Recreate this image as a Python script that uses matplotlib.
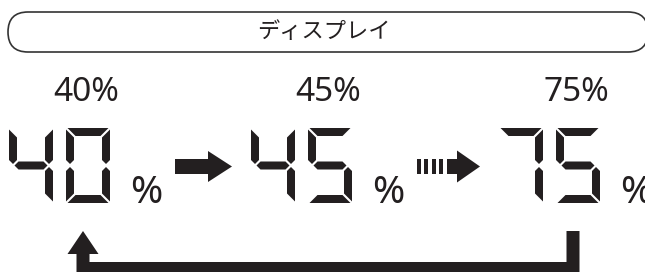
import matplotlib
matplotlib.use("Agg")
import matplotlib.pyplot as plt
import matplotlib.patches as mpatches

plt.rcParams['font.family'] = ['Noto Sans CJK JP', 'DejaVu Sans']

# dados
titulo = "ディスプレイ"
valores = [40, 45, 75]
rotulos = ["40%", "45%", "75%"]
setas = ["solida", "tracejada"]

COR = "#231f20"

# geometria do display de 7 segmentos
W, H, T, G = 44, 75, 8, 1.5
M = H / 2
SEGS = {
    'a': [(G, 0), (W - G, 0), (W - T - G, T), (T + G, T)],
    'd': [(G, H), (W - G, H), (W - T - G, H - T), (T + G, H - T)],
    'f': [(0, G), (T, T + G), (T, M - T / 2 - G), (T / 2, M - G), (0, M - T / 2 - G)],
    'b': [(W, G), (W - T, T + G), (W - T, M - T / 2 - G), (W - T / 2, M - G), (W, M - T / 2 - G)],
    'e': [(0, H - G), (T, H - T - G), (T, M + T / 2 + G), (T / 2, M + G), (0, M + T / 2 + G)],
    'c': [(W, H - G), (W - T, H - T - G), (W - T, M + T / 2 + G), (W - T / 2, M + G), (W, M + T / 2 + G)],
    'g': [(T / 2 + G, M), (T + G, M - T / 2), (W - T - G, M - T / 2), (W - T / 2 - G, M),
          (W - T - G, M + T / 2), (T + G, M + T / 2)],
}
DIGITOS = {
    '0': 'abcdef', '1': 'bc', '2': 'abged', '3': 'abgcd', '4': 'fgbc',
    '5': 'afgcd', '6': 'afgedc', '7': 'abc', '8': 'abcdefg', '9': 'abcdfg',
}


def desenha_digito(ax, ch, x0, y0):
    for s in DIGITOS[ch]:
        pts = [(x0 + px, y0 + py) for px, py in SEGS[s]]
        ax.add_patch(mpatches.Polygon(pts, closed=True, color=COR, lw=0))


fig = plt.figure(figsize=(6.45, 2.72), dpi=100)
ax = fig.add_axes([0, 0, 1, 1])
ax.set_xlim(0, 645)
ax.set_ylim(272, 0)
ax.axis('off')

# caixa do título
caixa = mpatches.FancyBboxPatch((8, 12), 640, 40, boxstyle="round,pad=0,rounding_size=20",
                                fc='white', ec='#333333', lw=1.2)
ax.add_patch(caixa)
ax.text(324, 32, titulo, fontsize=16, color=COR, ha='center', va='center')

TOPO = 128
grupos = [9, 251, 499]

for gx, v, rot in zip(grupos, valores, rotulos):
    ax.text(gx + 77, 101, rot, fontsize=24, color=COR, ha='center', va='baseline',
            family=['Noto Sans', 'DejaVu Sans'])
    for k, ch in enumerate(str(v)):
        desenha_digito(ax, ch, gx + 57 * k, TOPO)
    ax.text(gx + 121, 203, "%", fontsize=28, color=COR, ha='left', va='baseline',
            family=['Noto Sans', 'DejaVu Sans'], fontweight='light')

# setas entre os grupos
yc = TOPO + M + 1
for i, tipo in enumerate(setas):
    x0 = grupos[i] + 166
    x1 = grupos[i + 1] - 19
    if tipo == "solida":
        ax.add_patch(mpatches.FancyArrow(x0, yc, x1 - x0, 0, width=15, head_width=31,
                                         head_length=24, length_includes_head=True,
                                         color=COR, lw=0))
    else:
        ax.add_patch(mpatches.FancyArrow(x1 - 30, yc, 30, 0, width=15, head_width=32,
                                         head_length=23, length_includes_head=True,
                                         color=COR, lw=0))
        for j in range(5):
            ax.add_patch(mpatches.Rectangle((x0 + j * 7.4, yc - 7.5), 4, 15, color=COR, lw=0))

# seta de retorno (do último para o primeiro)
xa = grupos[0] + 74
xb = grupos[-1] + 74
sh = 6.5
pts = [(xa - sh, 254), (xa - 15.5, 254), (xa, 231), (xa + 15.5, 254), (xa + sh, 254),
       (xa + sh, 262), (xb - sh, 262), (xb - sh, 231), (xb + sh, 231), (xb + sh, 280),
       (xa - sh, 280)]
ax.add_patch(mpatches.Polygon(pts, closed=True, color=COR, lw=0))

fig.savefig("out.png", dpi=100)
